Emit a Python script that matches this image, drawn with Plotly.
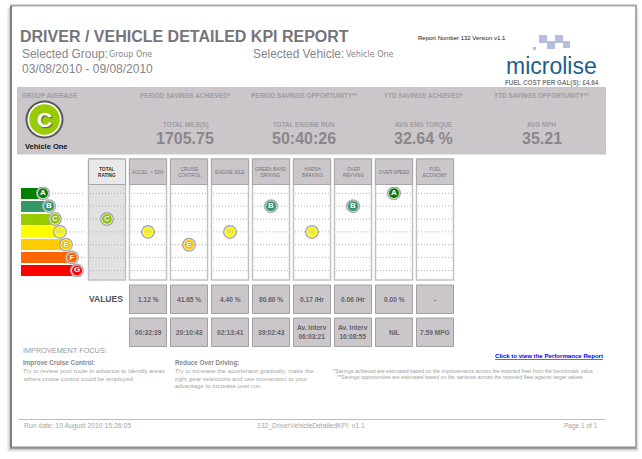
import plotly.graph_objects as go

W, H = 642, 459

# ---------- data ----------
grades = ["A", "B", "C", "D", "E", "F", "G"]
grade_colors = ["#008000", "#339966", "#99cc00", "#ffff00", "#ffcc00", "#ff6600", "#ff0000"]
band_lengths = [22, 28, 34, 39, 45, 51, 56]
kpi_keys = ["total", "accel", "cruise", "idle", "green", "harsh", "over", "speed", "fuel"]
kpi_labels = ["TOTAL<br>RATING", "ACCEL. > 50%", "CRUISE<br>CONTROL", "ENGINE IDLE", "GREEN BAND<br>DRIVING",
              "HARSH<br>BRAKING", "OVER<br>REVVING", "OVER SPEED", "FUEL<br>ECONOMY"]
kpi_ratings = ["C", "D", "E", "D", "B", "D", "B", "A", None]
values_row = ["1.12 %", "41.65 %", "4.40 %", "80.60 %", "0.17 /Hr", "0.06 /Hr", "0.00 %", "-"]
times_row = ["00:32:39", "20:10:43", "02:13:41", "39:02:43", "Av. Interv<br>06:03:21", "Av. Interv<br>16:08:55", "NIL", "7.59 MPG"]
band_heads = ["PERIOD SAVINGS ACHIEVED*", "PERIOD SAVINGS OPPORTUNITY**", "YTD SAVINGS ACHIEVED*", "YTD SAVINGS OPPORTUNITY**"]
stat_labels = ["TOTAL MILE(S)", "TOTAL ENGINE RUN", "AVG ENG TORQUE", "AVG MPH"]
stat_values = ["1705.75", "50:40:26", "32.64 %", "35.21"]

# ---------- layout constants (pixels) ----------
band_head_x = [185, 304, 423, 541.5]
col_left_first, col_step, col_w = 88, 41, 37
cols_left = [col_left_first + i * col_step for i in range(9)]
rows_y = [193.3 + i * 12.86 for i in range(7)]
GREY = "#cac6ca"
TXT = "#77737a"
DOTS = dict(color="#b0b0b0", width=1, dash="1px,2px")

fig = go.Figure()
shapes, notes = [], []


def rect(x0, y0, x1, y1, fill, line=None, lw=1, layer="below"):
    shapes.append(dict(type="rect", xref="x", yref="y", x0=x0, y0=y0, x1=x1, y1=y1, fillcolor=fill,
                       line=dict(color=line or fill, width=lw if line else 0), layer=layer))


def text(x, y, s, size=8, color=TXT, anchor="left", bold=False, family="Liberation Sans", shadow=None):
    if bold:
        s = "<b>" + s + "</b>"
    font = dict(size=size, color=color, family=family)
    if shadow:
        font["shadow"] = shadow
    notes.append(dict(x=x, y=y, xref="x", yref="y", text=s, showarrow=False, xanchor=anchor, yanchor="middle",
                      align="center" if anchor == "center" else "left", font=font, borderpad=0, borderwidth=0))


# page with soft shadow and frame
for off, col in [(4, "#f1f1f1"), (3, "#e2e2e2"), (2, "#cfcfcf"), (1, "#b4b4b4")]:
    rect(11 - off, 6 + off - 1, 636 + off - 1, 448 + off, col)
rect(11, 5.5, 636, 448, "#ffffff", "#a9a9a9", 2)
rect(10, 6, 12, 448, "#7d7d7d")
rect(10, 446.5, 636, 448.5, "#8f8f8f")

# header
text(20, 36, "DRIVER / VEHICLE DETAILED KPI REPORT", 16, TXT, bold=True)
text(21.5, 54, "Selected Group:", 11.9, "#88858a")
text(109, 54.5, "Group One", 8, "#88858a", family="DejaVu Sans")
text(252.5, 54, "Selected Vehicle:", 11.9, "#88858a")
text(345.5, 54.5, "Vehicle One", 8, "#88858a", family="DejaVu Sans")
text(21.5, 69, "03/08/2010 - 09/08/2010", 12, "#88858a")
text(418, 38, "Report Number 132 Version v1.1", 6, "#111111")

# logo
for sx, sy, ss in [(539, 35, 8), (555, 35, 8), (547, 41, 8), (563, 41, 7), (533, 47, 3)]:
    rect(sx, sy, sx + ss, sy + ss, "#b6bedd")
text(506, 65.5, "microlise", 23, "#1c5f8c")
text(505, 83, "FUEL COST PER GAL(S): £4.64", 6.3, "#7d7a80", bold=True)

# grey band
rect(17, 87, 606, 154.5, GREY)
text(22, 95, "GROUP AVERAGE", 6.3, "#a09ca2", bold=True)
for x, t in zip(band_head_x, band_heads):
    text(x, 95, t, 6.3, "#a09ca2", "center", True)
for x, lab, val in zip(band_head_x, stat_labels, stat_values):
    text(x, 124.5, lab, 6.3, "#a09ca2", "center", True)
    text(x, 138, val, 16, "#8a868c", "center", True)
text(46.5, 146, "Vehicle One", 7.5, "#111111", "center", True)

# group-average emblem
emblem_x, emblem_y = 44.5, 119.5
for r, c in [(19, "#58585a"), (17, "#ffffff"), (15.3, grade_colors[grades.index("C")])]:
    shapes.append(dict(type="circle", xref="x", yref="y", x0=emblem_x - r, y0=emblem_y - r, x1=emblem_x + r,
                       y1=emblem_y + r, fillcolor=c, line=dict(width=0), layer="below"))
text(44.5, 119.5, "C", 21, "#ffffff", "center", True, shadow="1px 1px 1px #555555")

# columns
for i, left in enumerate(cols_left):
    body = "#e1e1e1" if i == 0 else "#ffffff"
    head = "#e9e9e9" if i == 0 else GREY
    rect(left + .5, 159, left + col_w + .5, 280, body, "#c4c1c5", 1.5)
    rect(left + .5, 159, left + col_w + .5, 184.5, head, "#a9a6aa", 1)
    text(left + col_w / 2 + .5, 172, kpi_labels[i], 4.7, "#333333" if i == 0 else "#77737a", "center", i == 0)
    for y in rows_y:
        shapes.append(dict(type="line", xref="x", yref="y", x0=left + 2, x1=left + col_w - 1, y0=y, y1=y,
                           line=DOTS, layer="below"))

# legend leaders
for g, L, y in zip(grades, band_lengths, rows_y):
    shapes.append(dict(type="line", xref="x", yref="y", x0=21 + L + 6, x1=85, y0=y, y1=y, line=DOTS, layer="below"))

# value cells
for i, (v, t) in enumerate(zip(values_row, times_row)):
    left = cols_left[i + 1]
    rect(left + .5, 285, left + col_w + .5, 313.5, GREY, "#a3a0a4", 1)
    rect(left + .5, 318, left + col_w + .5, 346.5, GREY, "#a3a0a4", 1)
    text(left + col_w / 2 + .5, 299, v, 6.6, "#66636a", "center", True)
    text(left + col_w / 2 + .5, 332, t, 6.6, "#66636a", "center", True)
text(123, 299, "VALUES", 8.5, "#55525a", "right", True)

# text blocks
text(23, 350.5, "IMPROVEMENT FOCUS:", 7.3, "#9a979c")
text(23, 362.5, "Improve Cruise Control:", 6.3, "#8a878c", bold=True)
text(23, 370.7, "Try to review your route in advance to identify areas", 6.2, "#a5a3a7")
text(23, 378, "where cruise control could be employed", 6.2, "#a5a3a7")
text(175, 362.5, "Reduce Over Driving:", 6.3, "#8a878c", bold=True)
text(175, 370.7, "Try to increase the accelerator gradually, make the", 6.2, "#a5a3a7")
text(175, 378, "right gear selections and use momentum to your", 6.2, "#a5a3a7")
text(175, 385, "advantage to increase over run", 6.2, "#a5a3a7")
text(495, 355.5, "<u>Click to view the Performance Report</u>", 6.1, "#0000ee", bold=True)
text(333, 370.7, "*Savings achieved are estimated based on the improvements across the reported fleet from the benchmark value", 5.2, "#a0a0a0")
text(337, 377, "**Savings opportunities are estimated based on the variance across the reported fleet against target values", 5.2, "#a0a0a0")

# footer
shapes.append(dict(type="line", xref="x", yref="y", x0=18, x1=605, y0=419.5, y1=419.5,
                   line=dict(color="#bcbcbc", width=1), layer="below"))
text(23.5, 426, "Run date: 10 August 2010 15:26:05", 6.8, "#a5a3a7")
text(257, 426, "132_DriverVehicleDetailedKPI  v1.1", 6.8, "#a5a3a7")
text(564, 426, "Page 1 of 1", 6.5, "#a5a3a7")

# ---------- axes ----------
axis_off = dict(visible=False, showgrid=False, zeroline=False, fixedrange=True)
row_domain = [1 - (193.3 + 6.5 * 12.86) / H, 1 - (193.3 - .5 * 12.86) / H]
fig.update_layout(
    width=W, height=H, autosize=False, margin=dict(l=0, r=0, t=0, b=0), plot_bgcolor="rgba(0,0,0,0)", paper_bgcolor="#ffffff",
    showlegend=False, shapes=shapes, annotations=notes, bargap=0,
    xaxis=dict(range=[0, W], domain=[0, 1], **axis_off),
    yaxis=dict(range=[H, 0], domain=[0, 1], **axis_off),
    xaxis2=dict(type="category", categoryorder="array", categoryarray=kpi_keys, range=[-.5, 8.5],
                domain=[86.5 / W, 455.5 / W], anchor="y2", **axis_off),
    yaxis2=dict(type="category", categoryorder="array", categoryarray=grades, range=[6.5, -.5],
                domain=row_domain, anchor="x2", **axis_off),
    xaxis3=dict(range=[0, W], domain=[0, 1], anchor="y3", **axis_off),
    yaxis3=dict(type="category", categoryorder="array", categoryarray=grades, range=[6.5, -.5],
                domain=row_domain, anchor="x3", **axis_off),
)

fig.add_trace(go.Bar(x=band_lengths, y=grades, base=21, orientation="h", width=0.86, xaxis="x3", yaxis="y3",
                     marker=dict(color=grade_colors, line=dict(width=0)), hoverinfo="skip"))


def dots(xs, ys, xaxis, yaxis):
    cols = [grade_colors[grades.index(g)] for g in ys]
    fig.add_trace(go.Scatter(x=xs, y=ys, mode="markers", xaxis=xaxis, yaxis=yaxis, hoverinfo="skip",
                             marker=dict(size=12.5, color="#ffffff", line=dict(color="#aaa8ac", width=1.5))))
    letter = ["#fffbd0" if g in "DE" else "#ffffff" for g in ys]
    fig.add_trace(go.Scatter(x=xs, y=ys, mode="markers+text", text=list(ys), textposition="middle center",
                             textfont=dict(size=8, color=letter, family="Liberation Sans", weight="bold",
                                           shadow="0px 0px 1px #555555"),
                             xaxis=xaxis, yaxis=yaxis, hoverinfo="skip",
                             marker=dict(size=10, color=cols, line=dict(width=0))))


rated = [(k, r) for k, r in zip(kpi_keys, kpi_ratings) if r]
dots([k for k, _ in rated], [r for _, r in rated], "x2", "y2")
dots([21 + L for L in band_lengths], grades, "x3", "y3")

fig.write_html("out.html", config=dict(displayModeBar=False),
               post_script="document.body.style.margin='0';")
